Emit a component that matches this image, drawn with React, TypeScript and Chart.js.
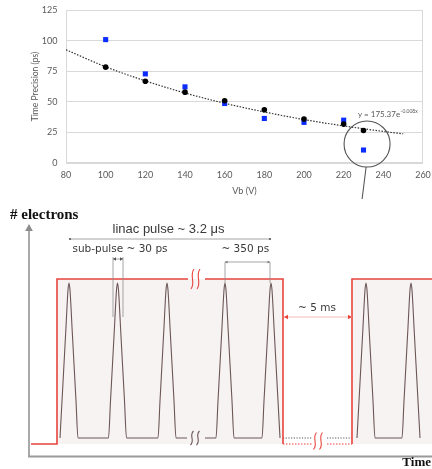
import React, { useEffect, useRef } from "react";
import { Chart, registerables } from "chart.js";

Chart.register(...registerables);

// ---------------- Top chart data: time precision vs bias voltage ----------------
const VB_VALUES = [100, 120, 140, 160, 180, 200, 220, 230];
const PRECISION_BLACK = [78.3, 66.8, 57.9, 50.8, 43.5, 35.9, 31.8, 26.6];
const PRECISION_BLUE = [100.8, 72.8, 62.2, 48.6, 36.4, 33.2, 35.0, 10.6];
const FIT_VB = [80, 100, 120, 140, 160, 180, 200, 220, 240, 250];
const FIT_PRECISION = [92.5, 78.6, 67.1, 57.2, 48.8, 41.7, 35.5, 30.3, 25.8, 23.8];
const X_TICK_LABELS = ["80", "100", "120", "140", "160", "180", "200", "220", "240", "260"];
const Y_TICK_LABELS = ["0", "25", "50", "75", "100", "125"];
const X_AXIS_TITLE = "Vb (V)";
const Y_AXIS_TITLE = "Time Precision (ps)";
const FIT_EQUATION = "y = 175.37e";
const FIT_EXPONENT = "-0.008x";

// ---------------- Bottom diagram data: linac pulse structure ----------------
const PULSE_OFFSETS = [-9, -7, -5, -3, -2, -1, 0, 1, 2, 3, 5, 7, 9];
const PULSE_HEIGHTS = [0, 37, 74, 111, 131, 148, 155, 148, 131, 111, 74, 37, 0];
const PULSE_BASELINE = 19;
const TRAIN1_BEFORE_BREAK = [40, 88.5, 138];
const TRAIN1_AFTER_BREAK = [196, 242];
const TRAIN2 = [337, 382];
const TRAIN1_BREAK = [158, 176];
const ENVELOPE_X = [2, 28, 28, 159, null, 176, 254, 254, null, 323, 323, 403];
const ENVELOPE_Y = [13, 13, 178, 178, null, 178, 178, 13, null, 13, 178, 178];
const ENVELOPE_FILL_X = [28, 254, 254, 323, 323, 403];
const ENVELOPE_FILL_Y = [178, 178, 13, 13, 178, 178];
const ENVELOPE_LOW = 13;
const OFF_X = [254, 283, null, 298, 323];
const LABEL_LINAC = "linac pulse ~ 3.2 μs";
const LABEL_SUB = "sub-pulse ~ 30 ps";
const LABEL_SPACING = "~ 350 ps";
const LABEL_GAP = "~ 5 ms";
const LABEL_Y = "# electrons";
const LABEL_X = "Time";

const RED = "#e8443c";
const PULSE_COLOR = "#6c5656";
const DIM_COLOR = "#8f8f8f";
const TEXT_DARK = "#3a3a3a";

const pts = (xs: (number | null)[], ys: (number | null)[]) =>
  xs.map((x, i) => ({ x: x as any, y: ys[i] as any }));

const trainPoints = (centers: number[]) =>
  centers.flatMap((c) =>
    PULSE_OFFSETS.map((dx, i) => ({ x: c + dx, y: PULSE_BASELINE + PULSE_HEIGHTS[i] }))
  );

const GAP = { x: null as any, y: null as any };

const topDecor = {
  id: "topDecor",
  beforeDatasetsDraw(chart: any) {
    const { ctx, chartArea } = chart;
    const l = Math.round(chartArea.left) + 0.5;
    const r = Math.round(chartArea.right) - 0.5;
    const t = Math.round(chartArea.top) + 0.5;
    const b = Math.round(chartArea.bottom) - 0.5;
    ctx.save();
    ctx.strokeStyle = "#d9d9d9";
    ctx.lineWidth = 1;
    ctx.strokeRect(l, t, r - l, b - t);
    ctx.restore();
  },
  afterDraw(chart: any) {
    const { ctx } = chart;
    const xs = chart.scales.x;
    const ys = chart.scales.y;
    ctx.save();
    // callout circle around the outlier at 230 V
    const cx = xs.getPixelForValue(231.8);
    const cy = ys.getPixelForValue(15.5);
    const rad = xs.getPixelForValue(231.8 + 11.6) - cx;
    ctx.strokeStyle = "#555555";
    ctx.lineWidth = 1.1;
    ctx.beginPath();
    ctx.arc(cx, cy, rad, 0, Math.PI * 2);
    ctx.stroke();
    ctx.beginPath();
    ctx.moveTo(xs.getPixelForValue(231.3), ys.getPixelForValue(-3.3));
    ctx.lineTo(xs.getPixelForValue(229.3), ys.getPixelForValue(-29.4));
    ctx.stroke();
    // fit equation
    const ex = xs.getPixelForValue(227.2);
    const ey = ys.getPixelForValue(40);
    ctx.fillStyle = "#595959";
    ctx.textAlign = "left";
    ctx.textBaseline = "middle";
    ctx.font = "8px Lato";
    ctx.fillText(FIT_EQUATION, ex, ey);
    const w = ctx.measureText(FIT_EQUATION).width;
    ctx.font = "5px Lato";
    ctx.fillText(FIT_EXPONENT, ex + w + 0.5, ey - 2.5);
    ctx.restore();
  },
};

function drawArrowHead(ctx: CanvasRenderingContext2D, x: number, y: number, dir: number, size: number, color: string) {
  ctx.save();
  ctx.fillStyle = color;
  ctx.translate(x, y);
  ctx.rotate(dir);
  ctx.beginPath();
  ctx.moveTo(0, 0);
  ctx.lineTo(-size, -size * 0.55);
  ctx.lineTo(-size, size * 0.55);
  ctx.closePath();
  ctx.fill();
  ctx.restore();
}

function drawBreak(ctx: CanvasRenderingContext2D, x: number, y: number, h: number, color: string) {
  ctx.save();
  ctx.strokeStyle = color;
  ctx.lineWidth = 1.1;
  for (const off of [-3, 3]) {
    const bx = x + off;
    ctx.beginPath();
    ctx.moveTo(bx + 1.5, y - h / 2);
    ctx.bezierCurveTo(bx - 3.5, y - h / 6, bx + 3.5, y + h / 6, bx - 1.5, y + h / 2);
    ctx.stroke();
  }
  ctx.restore();
}

const bottomDecor = {
  id: "bottomDecor",
  afterDraw(chart: any) {
    const { ctx } = chart;
    const xs = chart.scales.x;
    const ys = chart.scales.y;
    const X = (v: number) => xs.getPixelForValue(v);
    const Y = (v: number) => ys.getPixelForValue(v);
    ctx.save();

    // axes
    ctx.strokeStyle = "#8c8c8c";
    ctx.lineWidth = 1.5;
    ctx.beginPath();
    ctx.moveTo(X(0), Y(0));
    ctx.lineTo(X(0), Y(226));
    ctx.stroke();
    drawArrowHead(ctx, X(0), Y(233), -Math.PI / 2, 7, "#8c8c8c");
    ctx.strokeStyle = "#9a9a9a";
    ctx.lineWidth = 2;
    ctx.beginPath();
    ctx.moveTo(X(0) - 0.75, Y(0.5));
    ctx.lineTo(X(403), Y(0.5));
    ctx.stroke();

    // axis labels
    ctx.fillStyle = "#111111";
    ctx.font = "bold 15px 'Liberation Serif'";
    ctx.textAlign = "left";
    ctx.textBaseline = "middle";
    ctx.fillText(LABEL_Y, X(-19), Y(242));
    ctx.font = "bold 13px 'Liberation Serif'";
    ctx.textAlign = "right";
    ctx.fillText(LABEL_X, X(402), Y(-6));

    // breaks
    drawBreak(ctx, X(166.5), Y(178), 20, RED);
    drawBreak(ctx, X(166), Y(PULSE_BASELINE), 14, PULSE_COLOR);
    drawBreak(ctx, X(289), Y(16), 17, RED);

    // dimension lines
    ctx.strokeStyle = DIM_COLOR;
    ctx.lineWidth = 0.8;
    ctx.beginPath();
    ctx.moveTo(X(41), Y(218));
    ctx.lineTo(X(241), Y(218));
    ctx.moveTo(X(84), Y(200));
    ctx.lineTo(X(84), Y(140));
    ctx.moveTo(X(94), Y(200));
    ctx.lineTo(X(94), Y(140));
    ctx.moveTo(X(84), Y(198));
    ctx.lineTo(X(94), Y(198));
    ctx.moveTo(X(196), Y(195));
    ctx.lineTo(X(196), Y(174));
    ctx.moveTo(X(241), Y(195));
    ctx.lineTo(X(241), Y(174));
    ctx.moveTo(X(196), Y(195));
    ctx.lineTo(X(241), Y(195));
    ctx.stroke();
    ctx.fillStyle = "#555";
    for (const ex of [41, 241]) {
      ctx.beginPath();
      ctx.arc(X(ex), Y(218), 1.1, 0, Math.PI * 2);
      ctx.fill();
    }
    drawArrowHead(ctx, X(84), Y(198), Math.PI, 3, "#555");
    drawArrowHead(ctx, X(94), Y(198), 0, 3, "#555");
    drawArrowHead(ctx, X(196), Y(195), Math.PI, 2.5, "#777");
    drawArrowHead(ctx, X(241), Y(195), 0, 2.5, "#777");

    // 5 ms arrow
    ctx.strokeStyle = "#f3b4b0";
    ctx.lineWidth = 0.9;
    ctx.beginPath();
    ctx.moveTo(X(255), Y(140));
    ctx.lineTo(X(323), Y(140));
    ctx.stroke();
    drawArrowHead(ctx, X(255), Y(140), Math.PI, 4, RED);
    drawArrowHead(ctx, X(323), Y(140), 0, 4, RED);

    // labels
    ctx.fillStyle = TEXT_DARK;
    ctx.textAlign = "center";
    ctx.textBaseline = "middle";
    ctx.font = "13px 'Liberation Sans'";
    ctx.fillText(LABEL_LINAC, X(139.5), Y(228));
    ctx.font = "10.5px 'DejaVu Sans'";
    ctx.fillText(LABEL_SUB, X(91), Y(208));
    ctx.fillText(LABEL_SPACING, X(216.3), Y(207.7));
    ctx.fillText(LABEL_GAP, X(288), Y(149));
    ctx.restore();
  },
};

export default function App() {
  const topRef = useRef<HTMLCanvasElement>(null);
  const botRef = useRef<HTMLCanvasElement>(null);

  useEffect(() => {
    document.body.style.margin = "0";
    const xMin = Number(X_TICK_LABELS[0]);
    const xMax = Number(X_TICK_LABELS[X_TICK_LABELS.length - 1]);
    const yMin = Number(Y_TICK_LABELS[0]);
    const yMax = Number(Y_TICK_LABELS[Y_TICK_LABELS.length - 1]);
    const tickFont = { family: "Lato", size: 9 };

    const top = new Chart(topRef.current as HTMLCanvasElement, {
      type: "scatter",
      data: {
        datasets: [
          {
            label: "black",
            data: VB_VALUES.map((v, i) => ({ x: v, y: PRECISION_BLACK[i] })),
            pointStyle: "circle",
            pointRadius: 2.8,
            backgroundColor: "#000000",
            borderColor: "#000000",
            borderWidth: 0,
          },
          {
            label: "blue",
            data: VB_VALUES.map((v, i) => ({ x: v, y: PRECISION_BLUE[i] })),
            pointStyle: "rect",
            pointRadius: 3.6,
            backgroundColor: "#0b2cff",
            borderColor: "#0b2cff",
            borderWidth: 0,
          },
          {
            label: "fit",
            data: FIT_VB.map((v, i) => ({ x: v, y: FIT_PRECISION[i] })),
            showLine: true,
            pointRadius: 0,
            borderColor: "#333333",
            borderWidth: 1.2,
            borderDash: [1.5, 1.5],
            cubicInterpolationMode: "monotone",
          } as any,
        ],
      },
      options: {
        responsive: false,
        animation: false,
        events: [],
        layout: { padding: { top: 10, right: 9, left: 0, bottom: 0 } },
        plugins: { legend: { display: false }, tooltip: { enabled: false } },
        scales: {
          x: {
            type: "linear",
            min: xMin,
            max: xMax,
            grid: { display: false, drawTicks: false },
            border: { display: false },
            ticks: {
              stepSize: 20,
              color: "#595959",
              font: tickFont,
              padding: 7,
              callback: (v: any) => X_TICK_LABELS.find((l) => Number(l) === v) ?? "",
            },
            title: {
              display: true,
              text: X_AXIS_TITLE,
              color: "#595959",
              font: { family: "Lato", size: 9 },
              padding: { top: 0, bottom: 9 },
            },
            afterFit: (s: any) => {
              s.height = 42;
              s.paddingLeft = 0;
              s.paddingRight = 0;
            },
          },
          y: {
            min: yMin,
            max: yMax,
            grid: { color: "#d9d9d9", lineWidth: 1, drawTicks: false },
            border: { display: false },
            ticks: {
              stepSize: 25,
              color: "#595959",
              font: tickFont,
              padding: 8.5,
              callback: (v: any) => Y_TICK_LABELS.find((l) => Number(l) === v) ?? "",
            },
            title: {
              display: true,
              text: Y_AXIS_TITLE,
              color: "#595959",
              font: { family: "Lato", size: 8.5 },
              padding: { top: 30, bottom: 0 },
            },
            afterFit: (s: any) => {
              s.width = 66;
              s.paddingTop = 0;
              s.paddingBottom = 0;
            },
          },
        },
      } as any,
      plugins: [topDecor],
    });

    const pulseData = [
      ...trainPoints(TRAIN1_BEFORE_BREAK),
      { x: TRAIN1_BREAK[0], y: PULSE_BASELINE },
      GAP,
      { x: TRAIN1_BREAK[1], y: PULSE_BASELINE },
      ...trainPoints(TRAIN1_AFTER_BREAK),
      GAP,
      ...trainPoints(TRAIN2),
    ];

    const bottom = new Chart(botRef.current as HTMLCanvasElement, {
      type: "scatter",
      data: {
        datasets: [
          {
            label: "envelope",
            data: pts(ENVELOPE_X, ENVELOPE_Y),
            showLine: true,
            pointRadius: 0,
            borderColor: RED,
            borderWidth: 1.6,
            tension: 0,
            spanGaps: false,
          },
          {
            label: "envelope off",
            data: pts(OFF_X, OFF_X.map((x) => (x === null ? null : ENVELOPE_LOW))),
            showLine: true,
            pointRadius: 0,
            borderColor: RED,
            borderWidth: 1.1,
            borderDash: [1.5, 1.5],
            spanGaps: false,
          },
          {
            label: "sub-pulses",
            data: pulseData,
            showLine: true,
            pointRadius: 0,
            borderColor: PULSE_COLOR,
            borderWidth: 1.1,
            cubicInterpolationMode: "monotone",
            spanGaps: false,
          },
          {
            label: "baseline off",
            data: pts(OFF_X, OFF_X.map((x) => (x === null ? null : PULSE_BASELINE))),
            showLine: true,
            pointRadius: 0,
            borderColor: "#555555",
            borderWidth: 1,
            borderDash: [1.2, 1.5],
            spanGaps: false,
          },
          {
            label: "fill",
            data: pts(ENVELOPE_FILL_X, ENVELOPE_FILL_Y),
            showLine: true,
            pointRadius: 0,
            borderWidth: 0,
            borderColor: "rgba(0,0,0,0)",
            backgroundColor: "#f7f3f2",
            fill: { value: ENVELOPE_LOW },
          },
        ] as any,
      },
      options: {
        responsive: false,
        animation: false,
        events: [],
        layout: { padding: { top: 22, right: 0, left: 29, bottom: 12 } },
        plugins: { legend: { display: false }, tooltip: { enabled: false } },
        scales: {
          x: { type: "linear", min: 0, max: 403, display: false },
          y: { type: "linear", min: 0, max: 240, display: false },
        },
      } as any,
      plugins: [bottomDecor],
    });

    return () => {
      top.destroy();
      bottom.destroy();
    };
  }, []);

  return (
    <div style={{ position: "fixed", left: 0, top: 0, width: 432, height: 469, background: "#ffffff" }}>
      <canvas
        ref={topRef}
        width={432}
        height={205}
        style={{ position: "absolute", left: 0, top: 0, width: 432, height: 205, display: "block" }}
      />
      <canvas
        ref={botRef}
        width={432}
        height={274}
        style={{ position: "absolute", left: 0, top: 195, width: 432, height: 274, display: "block" }}
      />
    </div>
  );
}
